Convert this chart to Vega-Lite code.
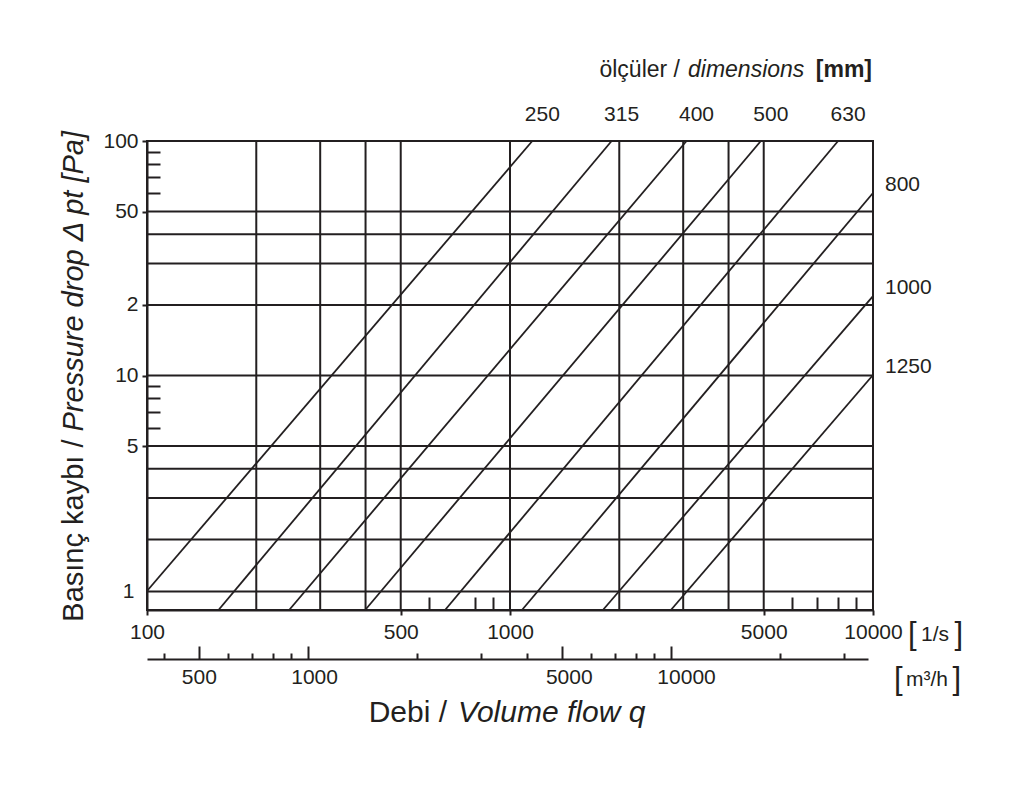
{
  "$schema": "https://vega.github.io/schema/vega-lite/v6.json",
  "width": 726,
  "height": 469,
  "autosize": {"type": "none"},
  "padding": {"left": 147, "top": 141, "right": 147, "bottom": 177},
  "background": "white",
  "config": {
    "view": {"stroke": "#231f20", "strokeWidth": 2},
    "font": "Liberation Sans",
    "axis": {
      "labelFont": "Liberation Sans",
      "labelFontSize": 21,
      "labelColor": "#231f20",
      "domainColor": "#231f20",
      "domainWidth": 2,
      "tickColor": "#231f20",
      "tickWidth": 2,
      "grid": false,
      "title": null,
      "labelOverlap": false,
      "labelFlush": false
    },
    "text": {"font": "Liberation Sans", "fill": "#231f20", "fontSize": 21}
  },
  "datasets": {
    "lines": [
      {"dim": "250", "q": 100, "p": 1.205},
      {"dim": "250", "q": 1152, "p": 100},
      {"dim": "315", "q": 157.4, "p": 1},
      {"dim": "315", "q": 1905, "p": 100},
      {"dim": "400", "q": 246.4, "p": 1},
      {"dim": "400", "q": 3064, "p": 100},
      {"dim": "500", "q": 399, "p": 1},
      {"dim": "500", "q": 4909, "p": 100},
      {"dim": "630", "q": 662.4, "p": 1},
      {"dim": "630", "q": 8013, "p": 100},
      {"dim": "800", "q": 1079, "p": 1},
      {"dim": "800", "q": 10000, "p": 60.0},
      {"dim": "1000", "q": 1803, "p": 1},
      {"dim": "1000", "q": 10000, "p": 21.8},
      {"dim": "1250", "q": 2775, "p": 1},
      {"dim": "1250", "q": 10000, "p": 10.05}
    ],
    "hgrid": [
      {"p": 50}, {"p": 40}, {"p": 30}, {"p": 20}, {"p": 10},
      {"p": 5}, {"p": 4}, {"p": 3}, {"p": 2}, {"p": 1.2}
    ],
    "vgrid": [
      {"q": 200}, {"q": 300}, {"q": 400}, {"q": 500}, {"q": 1000},
      {"q": 2000}, {"q": 3000}, {"q": 4000}, {"q": 5000}
    ],
    "m3h": [{"m": 360}, {"m": 34878}],
    "one": [{}]
  },
  "layer": [
    {
      "layer": [
        {
          "data": {"name": "hgrid"},
          "mark": {"type": "rule", "stroke": "#231f20", "strokeWidth": 2},
          "encoding": {
            "y": {
              "field": "p",
              "type": "quantitative",
              "scale": {"type": "log", "domain": [1, 100], "nice": false},
              "axis": {
                "orient": "left",
                "values": [100, 90, 80, 70, 60, 50, 20, 10, 9, 8, 7, 6, 5, 1.2],
                "labelExpr": "datum.value == 20 ? '2' : datum.value == 1.2 ? '1' : (indexof([100, 50, 10, 5], datum.value) >= 0 ? datum.label : '')",
                "tickSize": {"expr": "indexof([90, 80, 70, 60, 9, 8, 7, 6], datum.value) >= 0 ? -13 : (datum.value == 1.2 ? 0 : 5)"},
                "labelPadding": {"expr": "datum.value == 1.2 ? 13 : 4"},
                "labelBaseline": "middle"
              }
            }
          }
        },
        {
          "data": {"name": "vgrid"},
          "mark": {"type": "rule", "stroke": "#231f20", "strokeWidth": 2},
          "encoding": {
            "x": {
              "field": "q",
              "type": "quantitative",
              "scale": {"type": "log", "domain": [100, 10000], "nice": false},
              "axis": {
                "orient": "bottom",
                "values": [100, 500, 600, 800, 900, 1000, 5000, 6000, 7000, 8000, 9000, 10000],
                "labelExpr": "indexof([100, 500, 1000, 5000, 10000], datum.value) >= 0 ? datum.label : ''",
                "format": "d",
                "tickSize": {"expr": "indexof([100, 500, 1000, 5000, 10000], datum.value) >= 0 ? 5 : -13"},
                "labelPadding": 6
              }
            }
          }
        },
        {
          "data": {"name": "lines"},
          "mark": {"type": "line", "stroke": "#231f20", "strokeWidth": 1.8},
          "encoding": {
            "x": {"field": "q", "type": "quantitative"},
            "y": {"field": "p", "type": "quantitative"},
            "detail": {"field": "dim", "type": "nominal"}
          }
        },
        {
          "data": {"name": "lines"},
          "transform": [{"filter": "datum.p == 100"}],
          "mark": {"type": "text", "align": "center", "baseline": "middle", "dx": 10, "dy": -26},
          "encoding": {
            "x": {"field": "q", "type": "quantitative"},
            "y": {"field": "p", "type": "quantitative"},
            "text": {"field": "dim"}
          }
        },
        {
          "data": {"name": "lines"},
          "transform": [{"filter": "datum.q == 10000"}],
          "mark": {"type": "text", "align": "left", "baseline": "middle", "dx": 12, "dy": -8},
          "encoding": {
            "x": {"field": "q", "type": "quantitative"},
            "y": {"field": "p", "type": "quantitative"},
            "text": {"field": "dim"}
          }
        },
        {
          "data": {"name": "one"},
          "mark": {"type": "text", "align": "right", "baseline": "middle", "dx": -1, "dy": -71, "fontSize": 23, "fontWeight": "bold", "text": "[mm]"},
          "encoding": {"x": {"datum": 10000, "type": "quantitative"}, "y": {"datum": 100, "type": "quantitative"}}
        },
        {
          "data": {"name": "one"},
          "mark": {"type": "text", "align": "left", "baseline": "middle", "dx": -185, "dy": -71, "fontSize": 23, "fontStyle": "italic", "text": "dimensions"},
          "encoding": {"x": {"datum": 10000, "type": "quantitative"}, "y": {"datum": 100, "type": "quantitative"}}
        },
        {
          "data": {"name": "one"},
          "mark": {"type": "text", "align": "right", "baseline": "middle", "dx": -193, "dy": -71, "fontSize": 23, "text": "ölçüler /"},
          "encoding": {"x": {"datum": 10000, "type": "quantitative"}, "y": {"datum": 100, "type": "quantitative"}}
        },
        {
          "data": {"name": "one"},
          "mark": {"type": "text", "align": "right", "baseline": "middle", "dx": -63, "dy": 103, "fontSize": 30, "text": "Debi /"},
          "encoding": {"x": {"datum": 1000, "type": "quantitative"}, "y": {"datum": 1, "type": "quantitative"}}
        },
        {
          "data": {"name": "one"},
          "mark": {"type": "text", "align": "left", "baseline": "middle", "dx": -52, "dy": 103, "fontSize": 30, "fontStyle": "italic", "text": "Volume flow q"},
          "encoding": {"x": {"datum": 1000, "type": "quantitative"}, "y": {"datum": 1, "type": "quantitative"}}
        },
        {
          "data": {"name": "one"},
          "mark": {"type": "text", "align": "right", "baseline": "middle", "angle": 270, "dx": -64, "dy": -73, "fontSize": 29, "text": "Basınç kaybı /"},
          "encoding": {"x": {"datum": 100, "type": "quantitative"}, "y": {"datum": 10, "type": "quantitative"}}
        },
        {
          "data": {"name": "one"},
          "mark": {"type": "text", "align": "left", "baseline": "middle", "angle": 270, "dx": -56, "dy": -73, "fontSize": 29, "fontStyle": "italic", "text": "Pressure drop Δ pt [Pa]"},
          "encoding": {"x": {"datum": 100, "type": "quantitative"}, "y": {"datum": 10, "type": "quantitative"}}
        },
        {
          "data": {"name": "one"},
          "mark": {"type": "text", "align": "left", "baseline": "middle", "dx": 35, "dy": 25, "fontSize": 31, "text": "["},
          "encoding": {"x": {"datum": 10000, "type": "quantitative"}, "y": {"datum": 1, "type": "quantitative"}}
        },
        {
          "data": {"name": "one"},
          "mark": {"type": "text", "align": "left", "baseline": "middle", "dx": 48, "dy": 25, "fontSize": 21, "text": "1/s"},
          "encoding": {"x": {"datum": 10000, "type": "quantitative"}, "y": {"datum": 1, "type": "quantitative"}}
        },
        {
          "data": {"name": "one"},
          "mark": {"type": "text", "align": "right", "baseline": "middle", "dx": 90, "dy": 25, "fontSize": 31, "text": "]"},
          "encoding": {"x": {"datum": 10000, "type": "quantitative"}, "y": {"datum": 1, "type": "quantitative"}}
        },
        {
          "data": {"name": "one"},
          "mark": {"type": "text", "align": "left", "baseline": "middle", "dx": 21, "dy": 70, "fontSize": 31, "text": "["},
          "encoding": {"x": {"datum": 10000, "type": "quantitative"}, "y": {"datum": 1, "type": "quantitative"}}
        },
        {
          "data": {"name": "one"},
          "mark": {"type": "text", "align": "left", "baseline": "middle", "dx": 33, "dy": 70, "fontSize": 21, "text": "m³/h"},
          "encoding": {"x": {"datum": 10000, "type": "quantitative"}, "y": {"datum": 1, "type": "quantitative"}}
        },
        {
          "data": {"name": "one"},
          "mark": {"type": "text", "align": "right", "baseline": "middle", "dx": 88, "dy": 70, "fontSize": 31, "text": "]"},
          "encoding": {"x": {"datum": 10000, "type": "quantitative"}, "y": {"datum": 1, "type": "quantitative"}}
        }
      ]
    },
    {
      "data": {"name": "m3h"},
      "mark": {"type": "rule", "strokeOpacity": 0},
      "encoding": {
        "x": {
          "field": "m",
          "type": "quantitative",
          "scale": {"type": "log", "domain": [360, 34878], "range": [0, 721], "nice": false},
          "axis": {
            "orient": "bottom",
            "offset": 49,
            "values": [400, 500, 600, 700, 800, 900, 1000, 2000, 3000, 4000, 5000, 6000, 7000, 8000, 9000, 10000, 20000, 30000],
            "format": "d",
            "labelExpr": "indexof([500, 1000, 5000, 10000], datum.value) >= 0 ? datum.label : ''",
            "tickSize": {"expr": "indexof([500, 1000, 5000, 10000], datum.value) >= 0 ? -13 : -6"},
            "labelPadding": 20,
            "labelOffset": {"expr": "datum.value == 10000 ? 15 : (datum.value == 1000 ? 6 : (datum.value == 5000 ? 7 : 0))"}
          }
        }
      }
    }
  ],
  "resolve": {"scale": {"x": "independent"}}
}
